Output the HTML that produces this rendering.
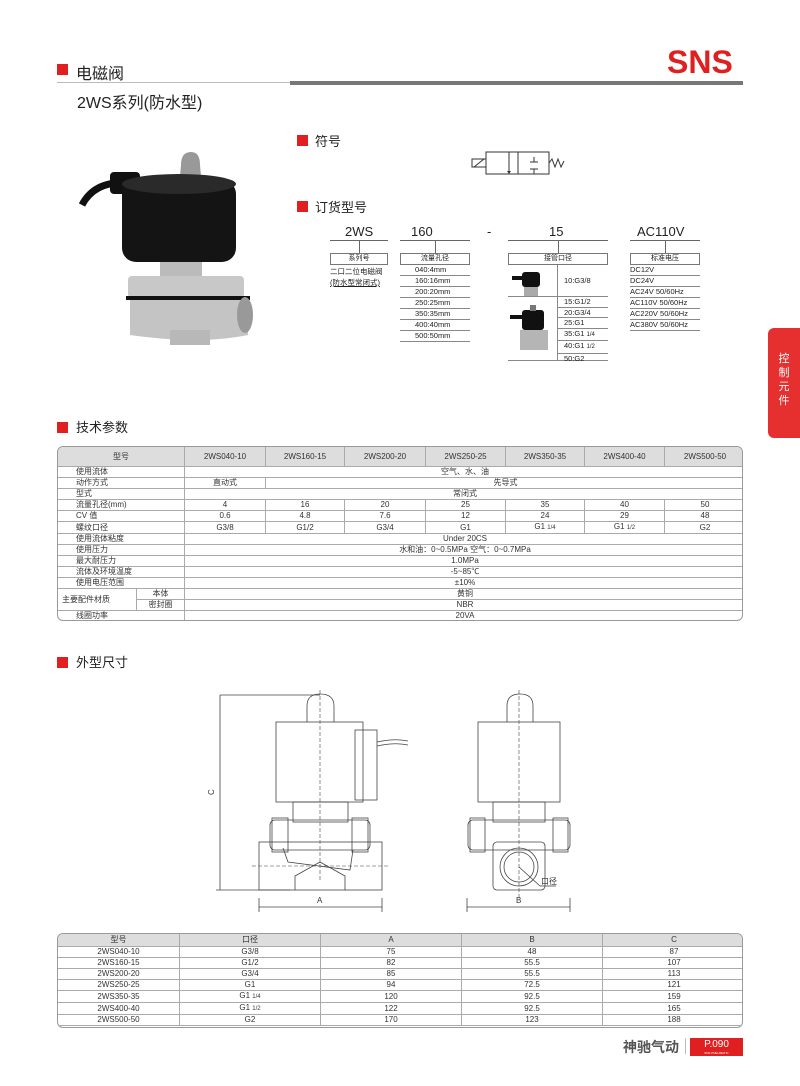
<!DOCTYPE html>
<html><head><meta charset="utf-8"><style>
*{margin:0;padding:0;box-sizing:border-box}
body{width:800px;height:1086px;background:#fff;position:relative;overflow:hidden;font-family:"Liberation Sans","Noto Sans CJK SC",sans-serif;color:#222}
.a{position:absolute;white-space:nowrap}
.sq{position:absolute;background:#e02020}
table{border-collapse:collapse;position:absolute;font-size:8px;table-layout:fixed}
td{border:1px solid #aaa;text-align:center;height:11px;line-height:10px;padding:0;color:#333}
.tb{border:1px solid #999;border-radius:6px;overflow:hidden;position:absolute}
.lf{text-align:left;padding-left:18px}
.hd td{background:#ddd;height:20px}
.ln{position:absolute;background:#666;height:1px}
.sm{font-size:6px}
</style></head><body>
<!-- header -->
<div class="sq" style="left:57px;top:64px;width:11px;height:11px"></div>
<div class="a" style="left:76px;top:60px;font-size:16px">电磁阀</div>
<div class="a" style="left:57px;top:82px;width:235px;height:1px;background:#bbb"></div>
<div class="a" style="left:290px;top:81px;width:453px;height:4px;background:#777"></div>
<div class="a" style="left:667px;top:44px;font-size:32px;font-weight:bold;color:#e02020;letter-spacing:0">SNS</div>
<div class="a" style="left:77px;top:89px;font-size:16px">2WS系列(防水型)</div>
<!-- side tab -->
<div class="a" style="left:768px;top:328px;width:32px;height:110px;background:#e63030;border-radius:6px 0 0 6px;color:#fff;font-size:11px;line-height:14px;text-align:center;padding-top:24px;white-space:normal">控<br>制<br>元<br>件</div>
<!-- product photo -->
<svg class="a" style="left:78px;top:148px" width="180" height="200" viewBox="78 148 180 200">
<path d="M82 205 Q95 180 130 183" stroke="#111" stroke-width="7" fill="none"/>
<rect x="110" y="172" width="30" height="22" rx="4" fill="#111"/>
<path d="M181 165 Q181 152 191 152 Q200 152 200 165 L202 188 L179 188Z" fill="#999"/>
<rect x="122" y="180" width="114" height="82" rx="14" fill="#141414"/>
<ellipse cx="179" cy="184" rx="57" ry="10" fill="#2a2a2a"/>
<rect x="160" y="262" width="42" height="22" fill="#bbb"/>
<rect x="128" y="276" width="116" height="22" rx="4" fill="#c8c8c8"/>
<rect x="126" y="296" width="124" height="4" fill="#111"/>
<path d="M130 300 L248 300 L248 335 Q200 345 130 335Z" fill="#c4c4c4"/>
<ellipse cx="245" cy="315" rx="8" ry="18" fill="#999"/>
<rect x="170" y="330" width="40" height="15" fill="#b8b8b8"/>
</svg>
<!-- symbol -->
<div class="sq" style="left:297px;top:135px;width:11px;height:11px"></div>
<div class="a" style="left:315px;top:131px;font-size:13px">符号</div>
<svg class="a" style="left:460px;top:140px" width="120" height="45">
<g stroke="#333" fill="none" stroke-width="1">
<rect x="12" y="19" width="14" height="8"/><line x1="14" y1="27" x2="24" y2="19"/>
<rect x="26" y="12" width="63" height="22"/>
<line x1="58" y1="12" x2="58" y2="34"/>
<line x1="49" y1="12" x2="49" y2="33"/>
<line x1="74" y1="17" x2="74" y2="22"/><line x1="70" y1="22" x2="78" y2="22"/>
<line x1="74" y1="29" x2="74" y2="34"/><line x1="70" y1="29" x2="78" y2="29"/>
<polyline points="89,23 92,19 95,27 98,19 101,27 104,21"/>
</g>
<polygon points="47,31 51,31 49,34" fill="#333"/>
</svg>
<!-- ordering -->
<div class="sq" style="left:297px;top:201px;width:11px;height:11px"></div>
<div class="a" style="left:315px;top:197px;font-size:13px">订货型号</div>
<div class="a" style="left:345px;top:224px;font-size:13px">2WS</div>
<div class="a" style="left:411px;top:224px;font-size:13px">160</div>
<div class="a" style="left:487px;top:224px;font-size:13px">-</div>
<div class="a" style="left:549px;top:224px;font-size:13px">15</div>
<div class="a" style="left:637px;top:224px;font-size:13px">AC110V</div>
<div class="ln" style="left:330px;top:240px;width:58px"></div>
<div class="ln" style="left:400px;top:240px;width:70px"></div>
<div class="ln" style="left:508px;top:240px;width:100px"></div>
<div class="ln" style="left:630px;top:240px;width:70px"></div>
<div class="a" style="left:359px;top:241px;width:1px;height:13px;background:#666"></div>
<div class="a" style="left:435px;top:241px;width:1px;height:13px;background:#666"></div>
<div class="a" style="left:558px;top:241px;width:1px;height:13px;background:#666"></div>
<div class="a" style="left:665px;top:241px;width:1px;height:13px;background:#666"></div>
<div class="a" style="left:330px;top:253px;width:58px;height:12px;border:1px solid #777;font-size:7px;text-align:center;line-height:10px">系列号</div>
<div class="a" style="left:400px;top:253px;width:70px;height:12px;border:1px solid #777;font-size:7px;text-align:center;line-height:10px">流量孔径</div>
<div class="a" style="left:508px;top:253px;width:100px;height:12px;border:1px solid #777;font-size:7px;text-align:center;line-height:10px">接管口径</div>
<div class="a" style="left:630px;top:253px;width:70px;height:12px;border:1px solid #777;font-size:7px;text-align:center;line-height:10px">标准电压</div>
<div class="a" style="left:330px;top:266px;font-size:7.5px;line-height:11px">二口二位电磁阀<br><u>(防水型常闭式)</u></div>
<div class="a" style="left:400px;top:265px;width:70px;font-size:7.5px;line-height:10px">
<div style="border-bottom:1px solid #888;padding-left:15px">040:4mm</div><div style="border-bottom:1px solid #888;padding-left:15px">160:16mm</div><div style="border-bottom:1px solid #888;padding-left:15px">200:20mm</div><div style="border-bottom:1px solid #888;padding-left:15px">250:25mm</div><div style="border-bottom:1px solid #888;padding-left:15px">350:35mm</div><div style="border-bottom:1px solid #888;padding-left:15px">400:40mm</div><div style="border-bottom:1px solid #888;padding-left:15px">500:50mm</div></div>
<div class="a" style="left:630px;top:265px;width:70px;font-size:7.5px;line-height:10px">
<div style="border-bottom:1px solid #888">DC12V</div><div style="border-bottom:1px solid #888">DC24V</div><div style="border-bottom:1px solid #888">AC24V 50/60Hz</div><div style="border-bottom:1px solid #888">AC110V 50/60Hz</div><div style="border-bottom:1px solid #888">AC220V 50/60Hz</div><div style="border-bottom:1px solid #888">AC380V 50/60Hz</div></div>
<div class="a" style="left:557px;top:265px;width:1px;height:95px;background:#888"></div>
<div class="a" style="left:508px;top:296px;width:100px;height:1px;background:#888"></div>
<div class="a" style="left:508px;top:360px;width:100px;height:1px;background:#888"></div>
<div class="a" style="left:564px;top:276px;font-size:7.5px">10:G3/8</div>
<div class="a" style="left:557px;top:297px;width:51px;font-size:7.5px;line-height:9.5px">
<div style="border-bottom:1px solid #888;padding-left:7px">15:G1/2</div><div style="border-bottom:1px solid #888;padding-left:7px">20:G3/4</div><div style="border-bottom:1px solid #888;padding-left:7px">25:G1</div><div style="border-bottom:1px solid #888;padding-left:7px">35:G1 <span class="sm">1/4</span></div><div style="border-bottom:1px solid #888;padding-left:7px">40:G1 <span class="sm">1/2</span></div><div style="padding-left:7px">50:G2</div></div>
<svg class="a" style="left:510px;top:268px" width="45" height="92">
<rect x="12" y="4" width="18" height="15" rx="3" fill="#111"/><rect x="2" y="8" width="12" height="4" fill="#111"/><rect x="14" y="19" width="14" height="9" fill="#aaa"/>
<rect x="12" y="42" width="22" height="20" rx="3" fill="#111"/><rect x="0" y="47" width="14" height="4" fill="#111"/><rect x="20" y="37" width="6" height="6" fill="#777"/><rect x="10" y="62" width="28" height="20" fill="#b5b5b5"/>
</svg>
<!-- tech params -->
<div class="sq" style="left:57px;top:422px;width:11px;height:11px"></div>
<div class="a" style="left:76px;top:417px;font-size:13px">技术参数</div>
<div class="tb" style="left:57px;top:446px;width:686px;height:175px">
<table style="left:-1px;top:-1px;width:688px">
<colgroup><col style="width:79px"><col style="width:48px"><col style="width:81px"><col style="width:79px"><col style="width:81px"><col style="width:80px"><col style="width:79px"><col style="width:80px"><col style="width:81px"></colgroup>
<tr class="hd"><td colspan="2">型号</td><td>2WS040-10</td><td>2WS160-15</td><td>2WS200-20</td><td>2WS250-25</td><td>2WS350-35</td><td>2WS400-40</td><td>2WS500-50</td></tr>
<tr><td colspan="2" class="lf">使用流体</td><td colspan="7">空气、水、油</td></tr>
<tr><td colspan="2" class="lf">动作方式</td><td>直动式</td><td colspan="6">先导式</td></tr>
<tr><td colspan="2" class="lf">型式</td><td colspan="7">常闭式</td></tr>
<tr><td colspan="2" class="lf">流量孔径(mm)</td><td>4</td><td>16</td><td>20</td><td>25</td><td>35</td><td>40</td><td>50</td></tr>
<tr><td colspan="2" class="lf">CV 值</td><td>0.6</td><td>4.8</td><td>7.6</td><td>12</td><td>24</td><td>29</td><td>48</td></tr>
<tr><td colspan="2" class="lf">螺纹口径</td><td>G3/8</td><td>G1/2</td><td>G3/4</td><td>G1</td><td>G1 <span class="sm">1/4</span></td><td>G1 <span class="sm">1/2</span></td><td>G2</td></tr>
<tr><td colspan="2" class="lf">使用流体粘度</td><td colspan="7">Under 20CS</td></tr>
<tr><td colspan="2" class="lf">使用压力</td><td colspan="7">水和油：0~0.5MPa 空气：0~0.7MPa</td></tr>
<tr><td colspan="2" class="lf">最大耐压力</td><td colspan="7">1.0MPa</td></tr>
<tr><td colspan="2" class="lf">流体及环境温度</td><td colspan="7">-5~85℃</td></tr>
<tr><td colspan="2" class="lf">使用电压范围</td><td colspan="7">±10%</td></tr>
<tr><td rowspan="2" style="text-align:left;padding-left:4px">主要配件材质</td><td>本体</td><td colspan="7">黄铜</td></tr>
<tr><td>密封圈</td><td colspan="7">NBR</td></tr>
<tr><td colspan="2" class="lf">线圈功率</td><td colspan="7">20VA</td></tr>
</table></div>
<!-- dimensions -->
<div class="sq" style="left:57px;top:657px;width:11px;height:11px"></div>
<div class="a" style="left:76px;top:652px;font-size:13px">外型尺寸</div>
<svg class="a" style="left:200px;top:680px" width="400" height="240" viewBox="200 680 400 240">
<g stroke="#444" fill="none" stroke-width="0.8">
<line x1="220" y1="695" x2="320" y2="695"/><line x1="220" y1="695" x2="220" y2="890"/><line x1="216" y1="890" x2="290" y2="890"/>
<path d="M307 722 L307 706 Q307 694 320 694 Q334 694 334 706 L334 722"/>
<rect x="276" y="722" width="87" height="80"/>
<rect x="355" y="730" width="22" height="70"/>
<path d="M377 742 Q395 738 408 741 M377 746 Q395 742 408 745"/>
<rect x="293" y="802" width="55" height="20"/>
<rect x="270" y="820" width="100" height="30" rx="5"/>
<rect x="272" y="818" width="16" height="34"/><rect x="352" y="818" width="16" height="34"/>
<rect x="259" y="842" width="123" height="48"/>
<path d="M283 848 L288 862 L350 870 L353 850"/>
<path d="M295 890 L295 876 L320 862 L345 876 L345 890"/>
<line x1="259" y1="898" x2="259" y2="912"/><line x1="382" y1="898" x2="382" y2="912"/><line x1="259" y1="907" x2="382" y2="907"/>
<path d="M507 722 L507 706 Q507 694 520 694 Q533 694 533 706 L533 722"/>
<rect x="478" y="722" width="82" height="80"/>
<rect x="493" y="802" width="52" height="20"/>
<rect x="468" y="820" width="102" height="30" rx="5"/>
<rect x="470" y="818" width="15" height="34"/><rect x="553" y="818" width="15" height="34"/>
<rect x="493" y="842" width="52" height="48" rx="4"/>
<circle cx="519" cy="867" r="19"/><circle cx="519" cy="867" r="15"/>
<line x1="519" y1="867" x2="540" y2="886"/><line x1="540" y1="886" x2="556" y2="886"/>
<line x1="467" y1="898" x2="467" y2="912"/><line x1="570" y1="898" x2="570" y2="912"/><line x1="467" y1="907" x2="570" y2="907"/>
</g>
<g stroke="#444" stroke-width="0.6" stroke-dasharray="4,2">
<line x1="320" y1="690" x2="320" y2="880"/><line x1="252" y1="866" x2="390" y2="866"/>
<line x1="519" y1="690" x2="519" y2="900"/>
</g>
<text x="214" y="795" font-size="8" fill="#333" transform="rotate(-90 214 795)">C</text>
<text x="317" y="903" font-size="8" fill="#333">A</text>
<text x="516" y="903" font-size="8" fill="#333">B</text>
<text x="541" y="884" font-size="8" fill="#333">口径</text>
</svg>
<!-- bottom table -->
<div class="tb" style="left:57px;top:933px;width:686px;height:95px">
<table style="left:-1px;top:-1px;width:688px">
<colgroup><col style="width:122px"><col style="width:141px"><col style="width:141px"><col style="width:141px"><col style="width:143px"></colgroup>
<tr><td style="background:#ddd;height:13px">型号</td><td style="background:#ddd">口径</td><td style="background:#ddd">A</td><td style="background:#ddd">B</td><td style="background:#ddd">C</td></tr>
<tr><td>2WS040-10</td><td>G3/8</td><td>75</td><td>48</td><td>87</td></tr>
<tr><td>2WS160-15</td><td>G1/2</td><td>82</td><td>55.5</td><td>107</td></tr>
<tr><td>2WS200-20</td><td>G3/4</td><td>85</td><td>55.5</td><td>113</td></tr>
<tr><td>2WS250-25</td><td>G1</td><td>94</td><td>72.5</td><td>121</td></tr>
<tr><td>2WS350-35</td><td>G1 <span class="sm">1/4</span></td><td>120</td><td>92.5</td><td>159</td></tr>
<tr><td>2WS400-40</td><td>G1 <span class="sm">1/2</span></td><td>122</td><td>92.5</td><td>165</td></tr>
<tr><td>2WS500-50</td><td>G2</td><td>170</td><td>123</td><td>188</td></tr>
</table></div>
<!-- footer -->
<div class="a" style="left:623px;top:1037px;font-size:14px;color:#555;font-weight:bold">神驰气动</div>
<div class="a" style="left:685px;top:1038px;width:1px;height:16px;background:#bbb"></div>
<div class="a" style="left:690px;top:1038px;width:53px;height:18px;background:#e02020;color:#fff;font-size:10px;text-align:center;line-height:13px">P.090<div style="font-size:3px;line-height:4px">SNS PNEUMATIC</div></div>
</body></html>
